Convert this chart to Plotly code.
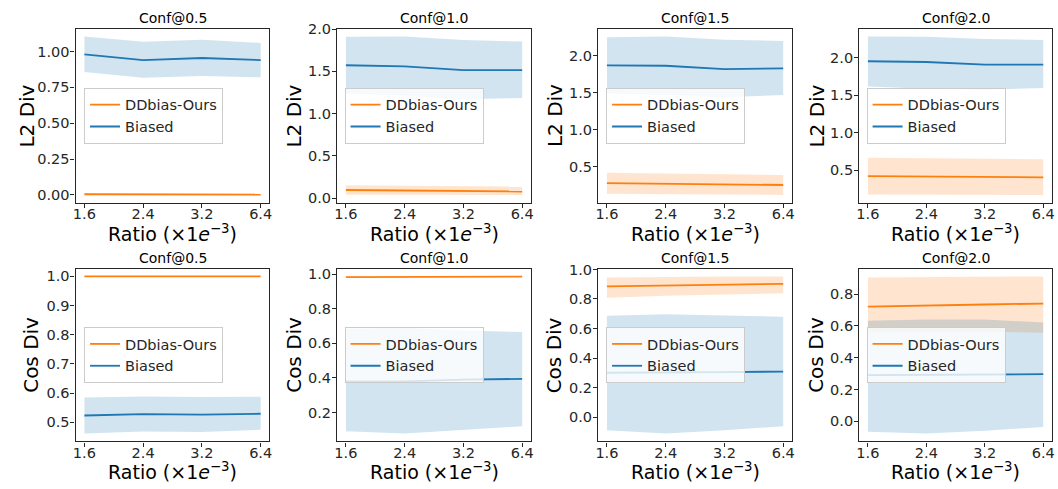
import plotly.graph_objects as go

# ---------------- data ----------------
ratios = ["1.6", "2.4", "3.2", "6.4"]
confs = ["0.5", "1.0", "1.5", "2.0"]

# L2 Div  - DDbias-Ours
l2_ours_mean = {
    "0.5": [0.005, 0.004, 0.003, 0.003],
    "1.0": [0.095, 0.088, 0.082, 0.077],
    "1.5": [0.28, 0.27, 0.26, 0.255],
    "2.0": [0.42, 0.415, 0.41, 0.405],
}
l2_ours_upper = {
    "0.5": [0.010, 0.009, 0.008, 0.008],
    "1.0": [0.15, 0.145, 0.14, 0.135],
    "1.5": [0.42, 0.41, 0.40, 0.39],
    "2.0": [0.665, 0.66, 0.65, 0.645],
}
l2_ours_lower = {
    "0.5": [0.0, 0.0, 0.0, 0.0],
    "1.0": [0.04, 0.038, 0.037, 0.036],
    "1.5": [0.135, 0.13, 0.125, 0.12],
    "2.0": [0.175, 0.173, 0.172, 0.17],
}
# L2 Div - Biased
l2_bias_mean = {
    "0.5": [0.98, 0.94, 0.955, 0.94],
    "1.0": [1.572, 1.56, 1.515, 1.515],
    "1.5": [1.87, 1.865, 1.82, 1.83],
    "2.0": [1.95, 1.94, 1.905, 1.905],
}
l2_bias_upper = {
    "0.5": [1.105, 1.068, 1.082, 1.06],
    "1.0": [1.91, 1.913, 1.87, 1.854],
    "1.5": [2.25, 2.26, 2.215, 2.2],
    "2.0": [2.28, 2.275, 2.245, 2.233],
}
l2_bias_lower = {
    "0.5": [0.858, 0.818, 0.83, 0.82],
    "1.0": [1.24, 1.21, 1.17, 1.185],
    "1.5": [1.49, 1.47, 1.44, 1.47],
    "2.0": [1.615, 1.585, 1.572, 1.594],
}

# Cos Div - DDbias-Ours
cos_ours_mean = {
    "0.5": [1.0, 1.0, 1.0, 1.0],
    "1.0": [0.984, 0.985, 0.986, 0.987],
    "1.5": [0.885, 0.892, 0.897, 0.903],
    "2.0": [0.722, 0.73, 0.735, 0.741],
}
cos_ours_upper = {
    "0.5": [1.0, 1.0, 1.0, 1.0],
    "1.0": [0.986, 0.987, 0.988, 0.988],
    "1.5": [0.945, 0.95, 0.952, 0.953],
    "2.0": [0.905, 0.908, 0.91, 0.912],
}
cos_ours_lower = {
    "0.5": [0.999, 0.999, 0.999, 0.999],
    "1.0": [0.982, 0.983, 0.984, 0.985],
    "1.5": [0.808, 0.822, 0.83, 0.838],
    "2.0": [0.56, 0.565, 0.565, 0.557],
}
# Cos Div - Biased
cos_bias_mean = {
    "0.5": [0.523, 0.528, 0.526, 0.529],
    "1.0": [0.38, 0.38, 0.39, 0.395],
    "1.5": [0.30, 0.30, 0.305, 0.308],
    "2.0": [0.29, 0.29, 0.294, 0.296],
}
cos_bias_upper = {
    "0.5": [0.585, 0.588, 0.586, 0.587],
    "1.0": [0.685, 0.69, 0.675, 0.666],
    "1.5": [0.687, 0.697, 0.688, 0.68],
    "2.0": [0.633, 0.64, 0.64, 0.622],
}
cos_bias_lower = {
    "0.5": [0.461, 0.468, 0.466, 0.474],
    "1.0": [0.092, 0.078, 0.10, 0.12],
    "1.5": [-0.09, -0.112, -0.09, -0.062],
    "2.0": [-0.067, -0.078, -0.06, -0.036],
}

# ---------------- styling ----------------
W, H = 1058, 489
FONT = "DejaVu Sans"
INK = "#262626"
ORANGE = "#ff7f0e"
BLUE = "#1f77b4"
ORANGE_FILL = "rgba(255,127,14,0.2)"
BLUE_FILL = "rgba(31,119,180,0.2)"

col_px = [(73, 268), (336, 531), (598.5, 793.5), (861, 1055)]
row_px = [(22, 200), (267, 443.5)]
legend_left_px = [81.5, 343.5, 606.5, 868.5]
ytitle_offset_px = [[49, 43.5, 44, 42.5], [45, 43.5, 44, 43.5]]

ytick_cfg = {
    (0, "0.5"): (0.25, ".2f"), (0, "1.0"): (0.5, ".1f"),
    (0, "1.5"): (0.5, ".1f"), (0, "2.0"): (0.5, ".1f"),
    (1, "0.5"): (0.1, ".1f"), (1, "1.0"): (0.2, ".1f"),
    (1, "1.5"): (0.2, ".1f"), (1, "2.0"): (0.2, ".1f"),
}

rows = [
    ("L2 Div", l2_ours_mean, l2_ours_upper, l2_ours_lower,
     l2_bias_mean, l2_bias_upper, l2_bias_lower),
    ("Cos Div", cos_ours_mean, cos_ours_upper, cos_ours_lower,
     cos_bias_mean, cos_bias_upper, cos_bias_lower),
]

fig = go.Figure()
layout = {}
annotations = []

idx = 0
for r, (ylabel, om, ou, ol, bm, bu, bl) in enumerate(rows):
    for c, conf in enumerate(confs):
        idx += 1
        sfx = "" if idx == 1 else str(idx)
        xa, ya = "x" + sfx, "y" + sfx
        leg = "legend" + sfx

        series = [
            ("DDbias-Ours", om[conf], ou[conf], ol[conf], ORANGE, ORANGE_FILL),
            ("Biased", bm[conf], bu[conf], bl[conf], BLUE, BLUE_FILL),
        ]
        for name, m, u, lo, lc, fc in series:
            fig.add_trace(go.Scatter(
                x=ratios + ratios[::-1], y=u + lo[::-1], fill="toself",
                fillcolor=fc, line=dict(width=0), mode="lines",
                showlegend=False, hoverinfo="skip", xaxis=xa, yaxis=ya,
            ))
        for name, m, u, lo, lc, fc in series:
            fig.add_trace(go.Scatter(
                x=ratios, y=m, mode="lines", name=name,
                line=dict(color=lc, width=1.8), xaxis=xa, yaxis=ya,
                legend=leg, showlegend=True,
            ))

        allv = om[conf] + ou[conf] + ol[conf] + bm[conf] + bu[conf] + bl[conf]
        lo_v, hi_v = min(allv), max(allv)
        pad = 0.05 * (hi_v - lo_v)
        dt, fmt = ytick_cfg[(r, conf)]

        x0, x1 = col_px[c]
        y0, y1 = row_px[r]
        xdom = [x0 / W, x1 / W]
        ydom = [1 - y1 / H, 1 - y0 / H]

        axis_common = dict(
            showline=True, mirror=True, linecolor=INK, linewidth=1.2,
            ticks="outside", ticklen=4, tickwidth=1.2, tickcolor=INK,
            showgrid=False, zeroline=False,
            tickfont=dict(family=FONT, size=14.5, color=INK),
        )
        layout["xaxis" + sfx] = dict(
            axis_common, domain=xdom, anchor=ya, type="category",
            categoryorder="array", categoryarray=ratios,
            range=[-0.15, 3.15], ticklabelstandoff=-6,
        )
        layout["yaxis" + sfx] = dict(
            axis_common, domain=ydom, anchor=xa,
            range=[lo_v - pad, hi_v + pad], dtick=dt, tick0=0,
            tickformat=fmt, ticklabelstandoff=-2,
        )
        layout[leg] = dict(
            x=legend_left_px[c] / W, xanchor="left",
            y=1 - ((y0 + y1) / 2) / H, yanchor="middle",
            bgcolor="rgba(255,255,255,0.8)", bordercolor="#cccccc",
            borderwidth=1, font=dict(family=FONT, size=14.5, color=INK),
            itemwidth=30, tracegroupgap=0,
        )
        # subplot title
        annotations.append(dict(
            text="Conf@" + conf, x=(x0 + x1) / 2 / W, y=1 - y0 / H,
            xref="paper", yref="paper", xanchor="center", yanchor="bottom",
            showarrow=False, font=dict(family=FONT, size=14, color="black"),
            yshift=1,
        ))
        # x-axis title
        annotations.append(dict(
            text="Ratio (×1<i>e</i><sup>−3</sup>)",
            x=(x0 + x1) / 2 / W, y=1 - (y1 + 30.5) / H,
            xref="paper", yref="paper", xanchor="center", yanchor="middle",
            showarrow=False, font=dict(family=FONT, size=19, color="black"),
        ))
        # y-axis title
        annotations.append(dict(
            text=ylabel, textangle=-90,
            x=(x0 - ytitle_offset_px[r][c]) / W, y=1 - ((y0 + y1) / 2) / H,
            xref="paper", yref="paper", xanchor="center", yanchor="middle",
            showarrow=False, font=dict(family=FONT, size=20, color="black"),
        ))

fig.update_layout(
    width=W, height=H, margin=dict(l=0, r=0, t=0, b=0),
    paper_bgcolor="white", plot_bgcolor="white",
    font=dict(family=FONT, color=INK),
    annotations=annotations, **layout,
)

fig.write_html("out.html")
